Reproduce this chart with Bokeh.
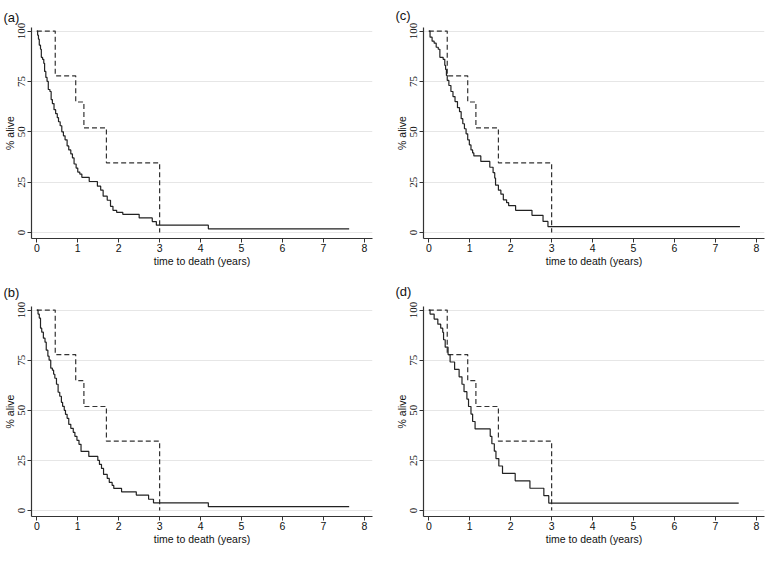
from bokeh.plotting import figure
from bokeh.layouts import column, row
from bokeh.models import Range1d, FixedTicker
from bokeh.embed import file_html
from bokeh.resources import INLINE

# ---- data ----
x_ticks = [0, 1, 2, 3, 4, 5, 6, 7, 8]
y_ticks = [0, 25, 50, 75, 100]

# dashed comparison curve (same in every panel)
ref_t = [0, 0.45, 0.95, 1.15, 1.70, 3.0]
ref_s = [100, 77.8, 64.8, 51.9, 34.6, 0]

# panel (a)
a_t = [0, 0.02, 0.04, 0.06, 0.09, 0.11, 0.14, 0.17, 0.19, 0.22, 0.25, 0.28, 0.32, 0.35,
       0.38, 0.42, 0.46, 0.50, 0.53, 0.57, 0.61, 0.65, 0.69, 0.74, 0.78, 0.83, 0.87, 0.91,
       0.96, 1.00, 1.05, 1.10, 1.28, 1.48, 1.56, 1.62, 1.72, 1.80, 1.86, 1.95, 2.10, 2.50,
       2.82, 2.92, 4.19, 7.63]
a_s = [100, 98, 96, 93, 91, 87, 86, 84, 80, 77, 75, 71, 70, 66,
       64, 61, 59, 57, 55, 53, 50, 48, 46, 43, 41, 39, 37, 34,
       32, 30, 29, 27.4, 25.3, 23, 21, 18, 16, 13, 11, 10, 9, 7.2,
       5.4, 3.6, 1.8, 1.8]

# panel (b)
b_t = [0, 0.03, 0.06, 0.09, 0.12, 0.16, 0.20, 0.23, 0.27, 0.30, 0.34, 0.38, 0.41, 0.44,
       0.48, 0.52, 0.56, 0.60, 0.63, 0.67, 0.70, 0.74, 0.78, 0.83, 0.89, 0.93, 0.98, 1.03,
       1.08, 1.27, 1.49, 1.53, 1.58, 1.63, 1.72, 1.77, 1.84, 1.88, 2.07, 2.43, 2.73, 2.85,
       4.19, 7.63]
b_s = [100, 98, 96, 91, 89, 86, 84, 80, 77, 75, 71, 70, 68, 66,
       63, 59, 57, 54, 52, 50, 48, 46, 43, 41, 39, 37, 35, 33,
       29.5, 27, 25, 23, 21, 18, 16, 14, 12.5, 11, 9.3, 7.7, 5.6, 3.8,
       1.9, 1.9]

# panel (c)
c_t = [0, 0.03, 0.08, 0.13, 0.18, 0.23, 0.27, 0.35, 0.39, 0.41, 0.43, 0.45, 0.49, 0.54,
       0.59, 0.64, 0.70, 0.75, 0.79, 0.83, 0.87, 0.91, 0.95, 0.99, 1.03, 1.07, 1.10, 1.27,
       1.49, 1.57, 1.61, 1.63, 1.70, 1.76, 1.82, 1.90, 1.95, 2.12, 2.52, 2.79, 2.91, 7.60]
c_s = [100, 97, 95, 94, 92, 91, 87, 86, 83, 81, 78, 75.5, 73, 70,
       67.5, 65, 62, 60, 56.5, 54, 51.5, 49, 46, 43.5, 41, 39.5, 38, 35.3,
       32.4, 29.7, 27, 23.5, 21, 19, 16.2, 14.8, 13.3, 11, 8.5, 5.5, 2.9, 2.9]

# panel (d)
d_t = [0, 0.03, 0.13, 0.22, 0.29, 0.34, 0.36, 0.40, 0.47, 0.52, 0.63, 0.74, 0.81, 0.86,
       0.93, 0.97, 1.03, 1.07, 1.13, 1.50, 1.54, 1.60, 1.64, 1.71, 1.80, 2.11, 2.47, 2.81,
       2.93, 7.57]
d_s = [100, 98, 95.5, 93, 91, 88.9, 85.2, 81.5, 77.8, 74.1, 70.4, 66.7, 63, 59.3,
       55.6, 51.9, 48.1, 44.4, 40.7, 37, 33.3, 29.6, 25.9, 22.2, 18.5, 14.8, 11.1, 7.4,
       3.7, 3.7]

FONT = "Liberation Sans"
NARROW = "Liberation Sans Narrow"


def panel(label, t, s, width, height, b_left, b_right, b_top, b_bottom, t_standoff):
    p = figure(width=width, height=height, output_backend="svg", toolbar_location=None,
               x_range=Range1d(-0.13, 8.2), y_range=Range1d(-3, 101.8),
               min_border_left=b_left, min_border_right=b_right,
               min_border_top=b_top, min_border_bottom=b_bottom,
               background_fill_color="white", border_fill_color="white")
    p.outline_line_color = None
    p.title.text = label
    p.title.align = "left"
    p.title.offset = -b_left
    p.title.text_font = FONT
    p.title.text_font_size = "13px"
    p.title.text_font_style = "normal"
    p.title.text_color = "#111111"
    p.title.standoff = t_standoff

    p.xgrid.visible = False
    p.ygrid.ticker = FixedTicker(ticks=y_ticks)
    p.ygrid.grid_line_color = "#e6e6e6"
    p.ygrid.grid_line_width = 1

    p.xaxis.ticker = FixedTicker(ticks=x_ticks)
    p.yaxis.ticker = FixedTicker(ticks=y_ticks)
    p.xaxis.axis_label = "time to death (years)"
    p.yaxis.axis_label = "% alive"
    for ax in (p.xaxis[0], p.yaxis[0]):
        ax.axis_line_color = "#333333"
        ax.axis_line_width = 1.2
        ax.major_tick_line_color = "#333333"
        ax.major_tick_out = 4
        ax.major_tick_in = 0
        ax.minor_tick_line_color = None
        ax.major_label_text_font = FONT
        ax.major_label_text_font_size = "10.5px"
        ax.major_label_text_color = "#111111"
        ax.axis_label_text_font = FONT
        ax.axis_label_text_font_size = "10.5px"
        ax.axis_label_text_font_style = "normal"
        ax.axis_label_text_color = "#111111"
    p.xaxis.major_label_standoff = 1
    p.xaxis.axis_label_standoff = 0
    p.yaxis.major_label_standoff = 2
    p.yaxis.axis_label_standoff = 0
    p.yaxis.major_label_text_font = NARROW
    p.yaxis.major_label_text_font_size = "11px"
    p.yaxis.major_label_orientation = "vertical"

    p.step(ref_t, ref_s, mode="after", line_color="#333333", line_width=1.2,
           line_dash="5 3")
    p.step(t, s, mode="after", line_color="#222222", line_width=1.2)
    return p


pa = panel("(a)", a_t, a_s, 392, 272, 28, 20, 22, 34, 5)
pc = panel("(c)", c_t, c_s, 374, 272, 28, 2, 26, 31, 10)
pb = panel("(b)", b_t, b_s, 392, 275, 28, 20, 31, 31, 14)
pd = panel("(d)", d_t, d_s, 374, 275, 28, 2, 34, 30, 16)

layout = column(row(pa, pc), row(pb, pd))

open("out.html", "w").write(file_html(layout, INLINE))
